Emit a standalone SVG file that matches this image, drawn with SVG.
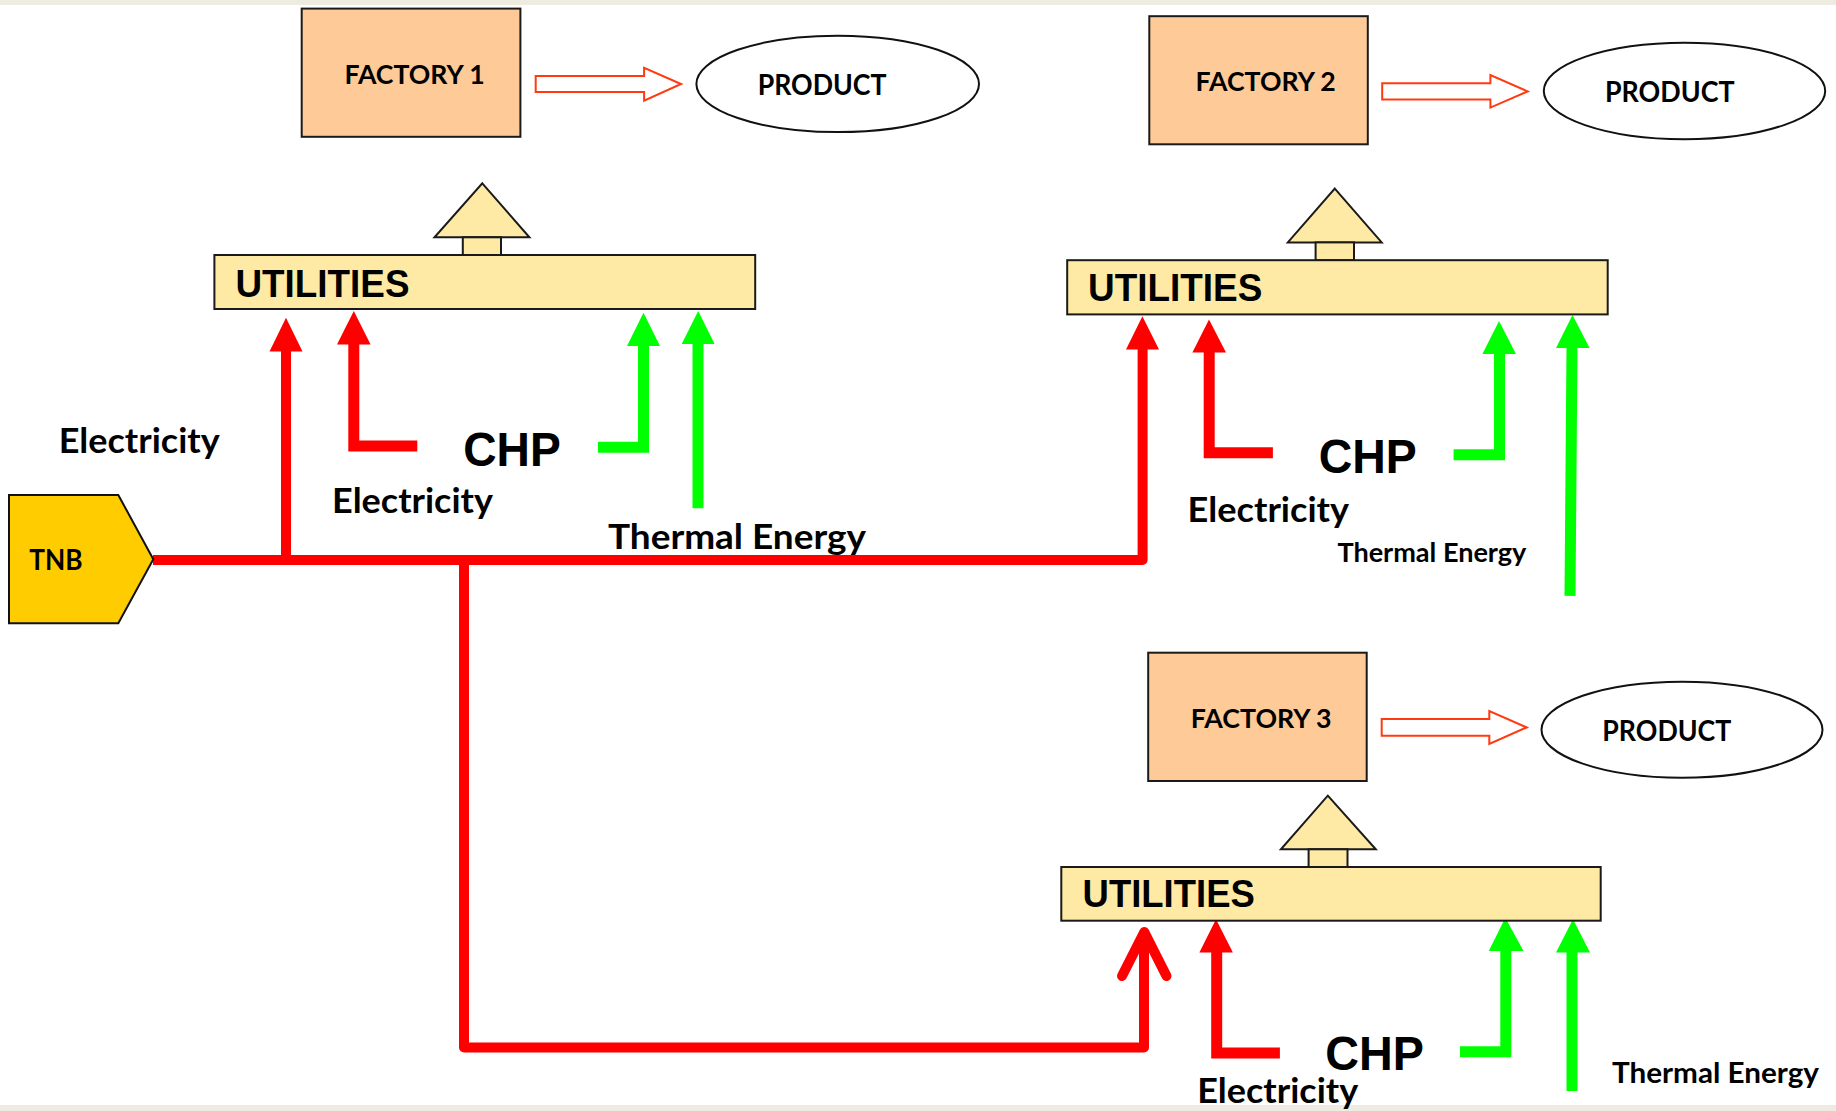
<svg xmlns="http://www.w3.org/2000/svg" width="1836" height="1111" viewBox="0 0 1836 1111">
<defs>
<style>
.bg{fill:#ffffff}
.strip{fill:#eeebe0}
.factory{fill:#fecb98;stroke:#1a1a1a;stroke-width:2}
.product{fill:#ffffff;stroke:#111;stroke-width:2}
.util{fill:#ffeaa5;stroke:#1a1a1a;stroke-width:2}
.hollow{fill:#ffffff;stroke:#ff3a10;stroke-width:2}
.tnb{fill:#ffcc00;stroke:#111;stroke-width:2}
.cal{font-family:Lato,"Open Sans","Liberation Sans",sans-serif;font-weight:bold;fill:#000}
.ari{font-family:"Liberation Sans",Arial,sans-serif;font-weight:bold;fill:#000}
.red{fill:none;stroke:#ff0000;stroke-width:11;stroke-linejoin:miter}
.redline{fill:none;stroke:#ff0000;stroke-width:10;stroke-linejoin:round}
.green{fill:none;stroke:#00ff00;stroke-width:11;stroke-linejoin:miter}
.rh{fill:#ff0000}
.gh{fill:#00ff00}
</style>
</defs>
<rect class="bg" x="0" y="0" width="1836" height="1111"/>
<rect class="strip" x="0" y="0" width="1836" height="5"/>
<rect class="strip" x="0" y="1105" width="1836" height="6"/>

<g id="connectors">
  <!-- TNB main red network -->
  <path class="redline" d="M153,560 H1142.6 V349"/>
  <path class="redline" d="M286,560 V351"/>
  <path class="redline" stroke-width="11" d="M464,560 V1047.5 H1144 V936"/>
  <path class="redline" stroke-width="12" d="M1122,976 L1144.3,932 L1166.5,976" stroke-linecap="round" stroke-linejoin="miter"/>
  <polygon class="rh" points="286,317.7 269.5,351.5 302.5,351.5"/>
  <polygon class="rh" points="1142.4,316.3 1126,349.5 1159,349.5"/>
  <!-- CHP 1 -->
  <path class="red" d="M417.3,446 H353.8 V343"/>
  <polygon class="rh" points="353.8,311 337,344.5 370.6,344.5"/>
  <path class="green" d="M597.9,447.2 H643.5 V344"/>
  <polygon class="gh" points="643.5,312.7 627,346 660,346"/>
  <path class="green" d="M698,508.3 V342"/>
  <polygon class="gh" points="698.2,311 681.7,344 714.6,344"/>
  <!-- CHP 2 -->
  <path class="red" d="M1272.9,452.7 H1209.2 V351"/>
  <polygon class="rh" points="1209,319.5 1192.4,352.5 1226,352.5"/>
  <path class="green" d="M1453.6,454.7 H1499.5 V352"/>
  <polygon class="gh" points="1499,321 1482.4,354 1516,354"/>
  <path class="green" d="M1570,595.9 L1572,346"/>
  <polygon class="gh" points="1572.5,315.1 1556,348 1589.6,348"/>
  <!-- CHP 3 -->
  <path class="red" d="M1279.9,1053 H1216.7 V951"/>
  <polygon class="rh" points="1216,919.3 1199.4,952.5 1232.9,952.5"/>
  <path class="green" d="M1460,1051.7 H1505.8 V949"/>
  <polygon class="gh" points="1505.3,917.7 1488.8,951 1523.5,951"/>
  <path class="green" d="M1572,1091 V950"/>
  <polygon class="gh" points="1573,919.3 1556,952.5 1590,952.5"/>
  <!-- factory to product hollow arrows -->
  <polygon class="hollow" points="535.7,75.9 644.1,75.9 644.1,67.9 681.1,84 644.1,100.7 644.1,92.1 535.7,92.1"/>
  <polygon class="hollow" points="1382.2,83.2 1490.4,83.2 1490.4,75.1 1527.7,91.4 1490.4,107.6 1490.4,99.6 1382.2,99.6"/>
  <polygon class="hollow" points="1381.7,719.1 1489.3,719.1 1489.3,711 1526.7,727.4 1489.3,744 1489.3,735.7 1381.7,735.7"/>
</g>

<g id="tnb">
  <polygon class="tnb" points="9,495 118.3,495 153.3,559.3 118.3,623.3 9,623.3"/>
  <text class="cal" x="29.3" y="570" font-size="28" textLength="53.4" lengthAdjust="spacingAndGlyphs">TNB</text>
</g>

<g id="factory1">
  <rect class="factory" x="301.7" y="8.6" width="218.7" height="128.2"/>
  <text class="cal" x="344.4" y="83.9" font-size="27.5" textLength="140.3" lengthAdjust="spacingAndGlyphs">FACTORY 1</text>
</g>
<g id="product1">
  <ellipse class="product" cx="837.7" cy="83.9" rx="141.3" ry="48.2"/>
  <text class="cal" x="757.7" y="94.6" font-size="28" textLength="128.8" lengthAdjust="spacingAndGlyphs">PRODUCT</text>
</g>
<g id="utilities1">
  <polygon class="util" points="482.3,183.3 529.4,237.3 434.5,237.3"/>
  <rect class="util" x="462.8" y="237.3" width="38.2" height="17.7"/>
  <rect class="util" x="214.4" y="255" width="540.8" height="54"/>
  <text class="ari" x="235.5" y="296.7" font-size="38.7" textLength="174" lengthAdjust="spacingAndGlyphs">UTILITIES</text>
</g>
<g id="chp1">
  <text class="ari" x="463.2" y="465.7" font-size="47.5" textLength="97.6" lengthAdjust="spacingAndGlyphs">CHP</text>
</g>

<g id="factory2">
  <rect class="factory" x="1149.3" y="16.2" width="218.5" height="128.1"/>
  <text class="cal" x="1195.6" y="91" font-size="27.5" textLength="140.2" lengthAdjust="spacingAndGlyphs">FACTORY 2</text>
</g>
<g id="product2">
  <ellipse class="product" cx="1684.5" cy="91" rx="140.7" ry="48.2"/>
  <text class="cal" x="1605" y="102" font-size="28" textLength="129.5" lengthAdjust="spacingAndGlyphs">PRODUCT</text>
</g>
<g id="utilities2">
  <polygon class="util" points="1334.8,188.6 1381.7,242.4 1287.8,242.4"/>
  <rect class="util" x="1315.6" y="242.4" width="38.4" height="17.8"/>
  <rect class="util" x="1067.2" y="260.2" width="540.5" height="54.2"/>
  <text class="ari" x="1088" y="301.3" font-size="38.7" textLength="174.3" lengthAdjust="spacingAndGlyphs">UTILITIES</text>
</g>
<g id="chp2">
  <text class="ari" x="1318.8" y="472.5" font-size="47.5" textLength="98" lengthAdjust="spacingAndGlyphs">CHP</text>
</g>

<g id="factory3">
  <rect class="factory" x="1148.2" y="652.7" width="218.5" height="128.3"/>
  <text class="cal" x="1190.8" y="728.3" font-size="27.5" textLength="140.8" lengthAdjust="spacingAndGlyphs">FACTORY 3</text>
</g>
<g id="product3">
  <ellipse class="product" cx="1682" cy="729.7" rx="140.5" ry="48"/>
  <text class="cal" x="1602.3" y="740.7" font-size="28" textLength="129" lengthAdjust="spacingAndGlyphs">PRODUCT</text>
</g>
<g id="utilities3">
  <polygon class="util" points="1327.8,795.7 1375.8,849.3 1280.9,849.3"/>
  <rect class="util" x="1308.6" y="849.3" width="38.9" height="17.7"/>
  <rect class="util" x="1061.3" y="867" width="539.4" height="53.7"/>
  <text class="ari" x="1082.6" y="907.3" font-size="38.7" textLength="172.2" lengthAdjust="spacingAndGlyphs">UTILITIES</text>
</g>
<g id="chp3">
  <text class="ari" x="1325.2" y="1070" font-size="47.5" textLength="98.6" lengthAdjust="spacingAndGlyphs">CHP</text>
</g>

<g id="labels">
  <text class="cal" x="58.7" y="453" font-size="35" textLength="161" lengthAdjust="spacingAndGlyphs">Electricity</text>
  <text class="cal" x="332" y="513.3" font-size="35" textLength="161" lengthAdjust="spacingAndGlyphs">Electricity</text>
  <text class="cal" x="608" y="549.3" font-size="35" textLength="258" lengthAdjust="spacingAndGlyphs">Thermal Energy</text>
  <text class="cal" x="1187.6" y="522" font-size="35" textLength="161.5" lengthAdjust="spacingAndGlyphs">Electricity</text>
  <text class="cal" x="1337.4" y="561.5" font-size="26" textLength="189" lengthAdjust="spacingAndGlyphs">Thermal Energy</text>
  <text class="cal" x="1197.2" y="1103.3" font-size="35" textLength="161" lengthAdjust="spacingAndGlyphs">Electricity</text>
  <text class="cal" x="1612" y="1083.3" font-size="28.4" textLength="207" lengthAdjust="spacingAndGlyphs">Thermal Energy</text>
</g>
</svg>
